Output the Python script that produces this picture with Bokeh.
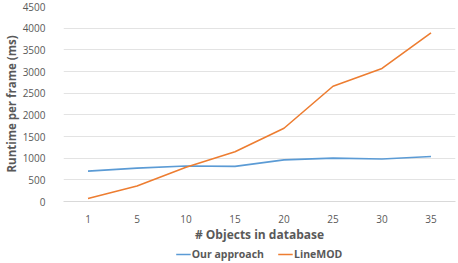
from bokeh.plotting import figure
from bokeh.layouts import column
from bokeh.models import FactorRange, Range1d, Legend, LegendItem, SingleIntervalTicker
from bokeh.embed import file_html
from bokeh.resources import INLINE

categories = ["1", "5", "10", "15", "20", "25", "30", "35"]
our_approach = [700, 770, 820, 810, 960, 1000, 980, 1040]
linemod = [70, 360, 790, 1150, 1690, 2660, 3070, 3890]
series_names = ["Our approach", "LineMOD"]
series_colors = ["#5B9BD5", "#ED7D31"]

TXT = "#595959"
FONT = "Open Sans"

p = figure(width=458, height=245, x_range=FactorRange(*categories, range_padding=0),
           y_range=Range1d(0, 4500), output_backend="svg", toolbar_location=None,
           min_border_left=62, min_border_right=3, min_border_top=6, min_border_bottom=40)
p.outline_line_color = None

p.line(categories, our_approach, line_color=series_colors[0], line_width=1.6)
p.line(categories, linemod, line_color=series_colors[1], line_width=1.6)

p.yaxis.ticker = SingleIntervalTicker(interval=500)
p.xgrid.grid_line_color = None
p.ygrid.grid_line_color = "#E3E3E3"
p.ygrid.grid_line_width = 1

for ax in (p.xaxis[0], p.yaxis[0]):
    ax.major_tick_line_color = None
    ax.minor_tick_line_color = None
    ax.major_label_text_color = TXT
    ax.major_label_text_font = FONT
    ax.major_label_text_font_size = "10px"
    ax.axis_label_text_color = TXT
    ax.axis_label_text_font = FONT
    ax.axis_label_text_font_style = "bold"

p.xaxis.axis_label_text_font_size = "12px"
p.yaxis.axis_label_text_font_size = "11.5px"
p.yaxis.axis_line_color = None
p.xaxis.axis_line_color = "#D9D9D9"
p.yaxis.axis_label = "Runtime per frame (ms)"
p.xaxis.axis_label = "# Objects in database"
p.yaxis.major_label_standoff = 12
p.xaxis.major_label_standoff = 7
p.xaxis.axis_label_standoff = 0
p.yaxis.axis_label_standoff = 1

# legend strip below the chart
lg = figure(width=458, height=18, x_range=Range1d(0, 1), y_range=Range1d(0, 1),
            output_backend="svg", toolbar_location=None,
            min_border_left=0, min_border_right=0, min_border_top=0, min_border_bottom=0)
lg.outline_line_color = None
lg.axis.visible = False
lg.grid.visible = False
items = []
for name, col in zip(series_names, series_colors):
    r = lg.line(x=[-5, -4], y=[-5, -5], line_color=col, line_width=1.6)
    items.append(LegendItem(label=name, renderers=[r]))
legend = Legend(items=items, orientation="horizontal", location="center",
                label_text_font=FONT, label_text_font_size="10.5px",
                label_text_font_style="bold", label_text_color=TXT,
                border_line_color=None, background_fill_alpha=0,
                glyph_width=15, glyph_height=12, label_standoff=1, spacing=14,
                padding=0, margin=0, label_height=12)
lg.add_layout(legend, "center")

layout = column(p, lg, spacing=0)
open("out.html", "w").write(file_html(layout, INLINE))
